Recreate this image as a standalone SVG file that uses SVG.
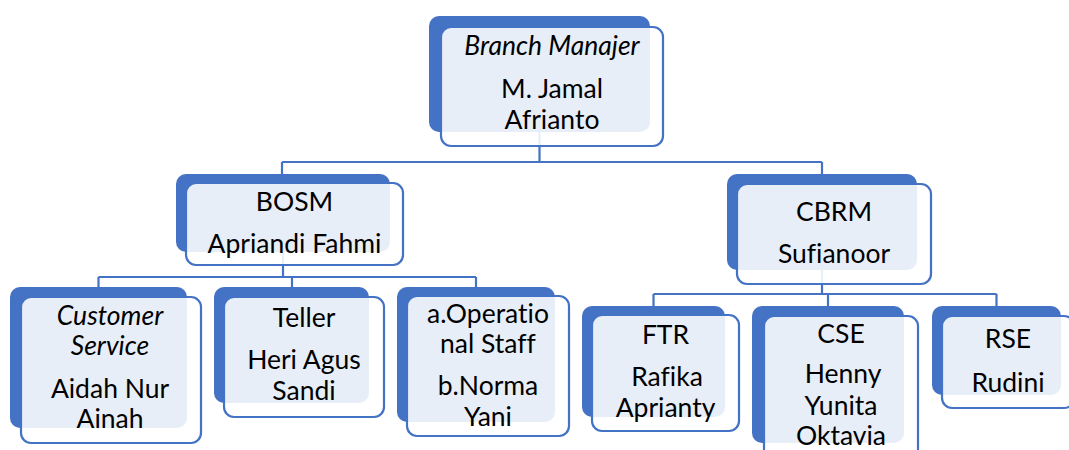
<svg xmlns="http://www.w3.org/2000/svg" width="1069" height="450" viewBox="0 0 1069 450">
<style>
.back{fill:#4472C4;}
.front{fill:#FFFFFF;fill-opacity:0.88;stroke:#4472C4;stroke-width:2.2;}
.conn{fill:none;stroke:#4472C4;stroke-width:2.2;}
text{font-family:"Lato","Liberation Sans",sans-serif;font-size:26.5px;fill:#000;text-anchor:middle;font-variant-ligatures:none;}
.it{font-style:italic;}
</style>
<rect width="1069" height="450" fill="#FFFFFF"/>
<g id="backs">
<rect class="back" x="429" y="16" width="221" height="116" rx="10"/>
<rect class="back" x="176" y="174" width="214" height="78" rx="10"/>
<rect class="back" x="727" y="174" width="190" height="96" rx="10"/>
<rect class="back" x="10" y="287" width="177" height="141" rx="10"/>
<rect class="back" x="214" y="287" width="155" height="116" rx="10"/>
<rect class="back" x="397" y="287" width="158" height="135" rx="10"/>
<rect class="back" x="582" y="306" width="143" height="111" rx="10"/>
<rect class="back" x="752" y="306" width="152" height="137" rx="10"/>
<rect class="back" x="932" y="306" width="129" height="89" rx="10"/>
</g>
<g id="connectors">
<path class="conn" d="M539.5,132 V162 M282,162 H822 M282,162 V174 M822,162 V174"/>
<path class="conn" d="M283,252 V277 M98.5,277 H476 M98.5,277 V287 M292,277 V287 M476,277 V287"/>
<path class="conn" d="M822,270 V294 M653.5,294 H996.5 M653.5,294 V306 M828,294 V306 M996.5,294 V306"/>
</g>
<g id="node-branch-manager">
<rect class="front" x="441" y="27" width="222" height="119" rx="10"/>
<text x="552" y="55" class="it">Branch Manajer</text>
<text x="552" y="98">M. Jamal</text>
<text x="552" y="129">Afrianto</text>
</g>
<g id="node-bosm">
<rect class="front" x="186" y="183" width="217" height="82" rx="10"/>
<text x="294.5" y="211">BOSM</text>
<text x="294.5" y="253">Apriandi Fahmi</text>
</g>
<g id="node-cbrm">
<rect class="front" x="737" y="184" width="194" height="100" rx="10"/>
<text x="834" y="221">CBRM</text>
<text x="834" y="263">Sufianoor</text>
</g>
<g id="node-customer-service">
<rect class="front" x="21" y="297" width="180" height="146" rx="10"/>
<text x="110" y="325" class="it">Customer</text>
<text x="110" y="355" class="it">Service</text>
<text x="110" y="398">Aidah Nur</text>
<text x="110" y="428">Ainah</text>
</g>
<g id="node-teller">
<rect class="front" x="224" y="297" width="160" height="120" rx="10"/>
<text x="304" y="327">Teller</text>
<text x="304" y="369">Heri Agus</text>
<text x="304" y="400">Sandi</text>
</g>
<g id="node-operational-staff">
<rect class="front" x="407" y="296" width="162" height="140" rx="10"/>
<text x="488" y="323">a.Operatio</text>
<text x="488" y="353">nal Staff</text>
<text x="488" y="395">b.Norma</text>
<text x="488" y="426">Yani</text>
</g>
<g id="node-ftr">
<rect class="front" x="592" y="315" width="147" height="116" rx="10"/>
<text x="665.5" y="344">FTR</text>
<text x="667" y="386">Rafika</text>
<text x="665.5" y="417">Aprianty</text>
</g>
<g id="node-cse">
<rect class="front" x="764" y="316" width="154" height="145" rx="10"/>
<text x="841" y="343">CSE</text>
<text x="843" y="383">Henny</text>
<text x="841" y="415">Yunita</text>
<text x="841" y="445">Oktavia</text>
</g>
<g id="node-rse">
<rect class="front" x="942" y="316" width="132" height="92" rx="10"/>
<text x="1008" y="348">RSE</text>
<text x="1008" y="392">Rudini</text>
</g>
</svg>
